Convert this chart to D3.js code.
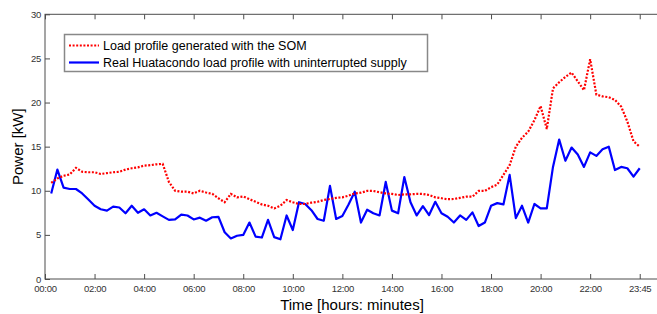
<!DOCTYPE html>
<html><head><meta charset="utf-8">
<script src="https://cdn.jsdelivr.net/npm/d3@7"></script>
<style>body{margin:0;background:#fff}svg{display:block}</style>
</head><body>
<svg id="c" width="657" height="314"></svg>
<script>
const xTickIndex = [0,8,16,24,32,40,48,56,64,72,80,88,96];
const xTickLabels = ["00:00","02:00","04:00","06:00","08:00","10:00","12:00","14:00","16:00","18:00","20:00","22:00","23:45"];
const yTicks = [0,5,10,15,20,25,30];
const seriesNames = ["Load profile generated with the SOM","Real Huatacondo load profile with uninterrupted supply"];
const somLoad = [10.9,11.4,11.7,11.85,12.6,12.15,12.1,12.1,11.9,12.0,12.1,12.15,12.4,12.55,12.65,12.85,
12.9,13.0,13.05,11.0,10.0,9.9,9.9,9.7,10.0,9.8,9.65,9.15,8.7,9.65,9.25,9.35,
9.05,8.75,8.45,8.3,8.0,8.3,8.95,8.7,8.5,8.5,8.65,8.75,8.95,9.07,9.2,9.25,
9.45,9.7,9.78,9.98,9.98,9.83,9.7,9.64,9.52,9.6,9.6,9.64,9.64,9.52,9.25,9.15,
9.04,9.07,9.2,9.33,9.33,9.98,9.98,10.4,10.7,11.8,12.9,15.0,16.0,16.7,18.0,19.6,
17.0,21.6,22.3,22.9,23.4,22.4,21.4,24.9,20.9,20.7,20.6,20.3,19.55,17.85,15.6,15.0];
const realLoad = [9.7,12.4,10.35,10.2,10.2,9.7,9.0,8.3,7.9,7.75,8.2,8.1,7.45,8.3,7.5,7.9,
7.2,7.5,7.1,6.7,6.75,7.3,7.2,6.75,6.95,6.6,7.0,7.05,5.3,4.6,4.9,5.0,
6.4,4.8,4.7,6.7,4.75,4.5,7.2,5.55,8.7,8.5,7.8,6.8,6.6,10.55,6.8,7.15,
8.45,9.9,6.4,7.85,7.45,7.2,11.0,7.75,7.45,11.55,8.7,7.2,8.25,7.25,8.75,7.45,
7.05,6.4,7.2,6.7,7.55,6.0,6.4,8.3,8.6,8.45,11.8,6.9,8.3,6.4,8.5,8.0,
8.0,12.7,15.8,13.4,14.9,14.1,12.7,14.35,13.95,14.7,15.0,12.35,12.7,12.55,11.6,12.55];

const svg = d3.select("#c");
const L = 45, T = 14.3, B = 279, R = 664.5;
const x = d3.scaleLinear().domain([0,100]).range([L,R]);
const y = d3.scaleLinear().domain([0,30]).range([B,T]);
const frame = "#4d4d4d";
const tickFont = "'Liberation Sans',Arial,sans-serif";

// frame
svg.append("rect").attr("x",L).attr("y",T).attr("width",R-L).attr("height",B-T)
  .attr("fill","none").attr("stroke",frame).attr("stroke-width",1);

// x axis
const xAxis = d3.axisBottom(x).tickValues(xTickIndex)
  .tickFormat((d,i)=>xTickLabels[i]).tickSizeInner(-5).tickSizeOuter(0).tickPadding(6.5);
const gx = svg.append("g").attr("transform",`translate(0,${B})`).call(xAxis);
gx.select(".domain").remove();
gx.selectAll("line").attr("stroke",frame);
gx.selectAll("text").attr("fill","#333").style("font-family",tickFont).style("font-size","9.5px")
  .style("letter-spacing","-0.3px");
// top mirror ticks
const xTop = d3.axisTop(x).tickValues(xTickIndex).tickFormat("").tickSizeInner(-5).tickSizeOuter(0);
const gxt = svg.append("g").attr("transform",`translate(0,${T})`).call(xTop);
gxt.select(".domain").remove();
gxt.selectAll("line").attr("stroke",frame);

// y axis
const yAxis = d3.axisLeft(y).tickValues(yTicks).tickSizeInner(-5).tickSizeOuter(0).tickPadding(4);
const gy = svg.append("g").attr("transform",`translate(${L},0)`).call(yAxis);
gy.select(".domain").remove();
gy.selectAll("line").attr("stroke",frame);
gy.selectAll("text").attr("fill","#333").style("font-family",tickFont).style("font-size","9.5px")
  .style("letter-spacing","-0.3px");

// lines
const line = d3.line().x((d,i)=>x(i+1)).y(d=>y(d));
svg.append("path").datum(realLoad).attr("d",line).attr("fill","none")
  .attr("stroke","#0000ff").attr("stroke-width",2.2).attr("stroke-linejoin","round");
svg.append("path").datum(somLoad).attr("d",line).attr("fill","none")
  .attr("stroke","#ff0000").attr("stroke-width",2.2).attr("stroke-dasharray","2,1.6");

// legend
const lg = svg.append("g");
lg.append("rect").attr("x",64.5).attr("y",34.5).attr("width",363).attr("height",37)
  .attr("fill","#fff").attr("stroke","#888").attr("stroke-width",1.5);
const colors = ["#ff0000","#0000ff"], dashes = ["2,1.6",null], ly = [45.5,62.5];
seriesNames.forEach((n,i)=>{
  lg.append("line").attr("x1",69).attr("x2",99).attr("y1",ly[i]).attr("y2",ly[i])
    .attr("stroke",colors[i]).attr("stroke-width",2.2).attr("stroke-dasharray",dashes[i]);
  lg.append("text").attr("x",103).attr("y",ly[i]).attr("dy","0.35em")
    .style("font-family","'Liberation Sans',Arial,sans-serif").style("font-size","12.5px")
    .attr("fill","#000").text(n);
});

// axis titles
svg.append("text").attr("x",352).attr("y",310).attr("text-anchor","middle")
  .style("font-family","'Liberation Sans',Arial,sans-serif").style("font-size","15px").text("Time [hours: minutes]");
svg.append("text").attr("transform",`translate(23,${(T+B)/2}) rotate(-90)`).attr("text-anchor","middle")
  .style("font-family","'Liberation Sans',Arial,sans-serif").style("font-size","15px").text("Power [kW]");
</script>
</body></html>
